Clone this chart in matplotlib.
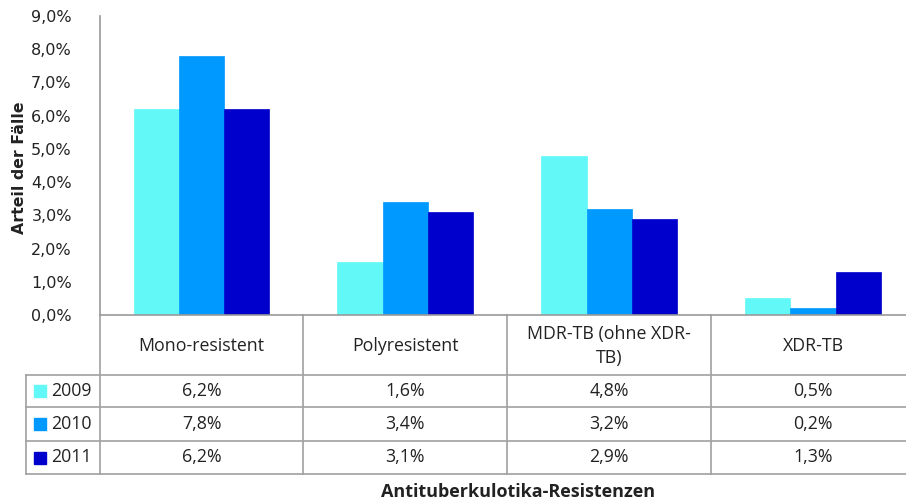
import numpy as np
import matplotlib.pyplot as plt
import matplotlib.transforms as mtransforms
from matplotlib.patches import Rectangle

categories = ['Mono-resistent', 'Polyresistent', 'MDR-TB (ohne XDR-\nTB)', 'XDR-TB']
years = ['2009', '2010', '2011']
v2009 = [6.2, 1.6, 4.8, 0.5]
v2010 = [7.8, 3.4, 3.2, 0.2]
v2011 = [6.2, 3.1, 2.9, 1.3]
colors = ['#62F8F8', '#0099FF', '#0000CC']

W, H = 906, 501
fig = plt.figure(figsize=(W / 100, H / 100), dpi=100)
# axes placed in pixel terms (Excel layout)
x0, x1, y0, y1 = 99.6, 915, 315, 16
ax = fig.add_axes([x0 / W, (H - y0) / H, (x1 - x0) / W, (y0 - y1) / H])

series = [v2009, v2010, v2011]
ind = np.arange(len(categories))
bw = 2 / 9
for i, vals in enumerate(series):
    ax.bar(ind + (i - 1) * bw, vals, bw, color=colors[i], edgecolor=colors[i], linewidth=0.5)

ax.set_xlim(-0.5, len(categories) - 0.5)
ax.set_ylim(0, 9)
ax.set_yticks(np.arange(0, 10, 1))
ax.set_yticklabels([('%.1f%%' % t).replace('.', ',') for t in np.arange(0, 10, 1)])
ax.yaxis.set_tick_params(length=0, pad=20, labelsize=11.5, labelcolor='#222222')
ax.set_xticks([])
for s in ['top', 'right']:
    ax.spines[s].set_visible(False)
for s in ['left', 'bottom']:
    ax.spines[s].set_color('#999999')
    ax.spines[s].set_linewidth(1.2)

fig.text(20 / W, (H - 168) / H, 'Arteil der Fälle', rotation=90, ha='center', va='center',
         fontsize=11.3, fontweight='bold', color='#222222')

# data table under the axis
ph = y0 - y1
def ay(py):
    return (y0 - py) / ph

trans = mtransforms.blended_transform_factory(ax.transData, ax.transAxes)
lc = '#A0A0A0'
leg_left = (26 - x0) / ((x1 - x0) / 4) - 0.5
right = 4.0
rows = [375, 407, 441, 474]
for r in rows:
    ax.plot([leg_left, right], [ay(r), ay(r)], color=lc, lw=1.2, transform=trans, clip_on=False)
for b in [-0.5, 0.5, 1.5, 2.5]:
    ax.plot([b, b], [0, ay(474)], color=lc, lw=1.2, transform=trans, clip_on=False)
ax.plot([leg_left, leg_left], [ay(375), ay(474)], color=lc, lw=1.2, transform=trans, clip_on=False)

tfont = dict(family=['Open Sans', 'DejaVu Sans'], fontsize=12.8, color='#222222')
for j, cat in enumerate(categories):
    ax.text(j, ay(346), cat, ha='center', va='center', transform=trans,
            linespacing=1.4, **tfont)
row_mid = [391, 424, 457.5]
for i, vals in enumerate(series):
    for j, v in enumerate(vals):
        ax.text(j, ay(row_mid[i]), ('%.1f%%' % v).replace('.', ','), ha='center', va='center',
                transform=trans, **tfont)
    fig.patches.append(Rectangle((34 / W, (H - row_mid[i] - 6) / H), 12 / W, 12 / H,
                                 transform=fig.transFigure, color=colors[i]))
    fig.text(51 / W, (H - row_mid[i]) / H, years[i], ha='left', va='center', **tfont)

fig.text(518 / W, (H - 492) / H, 'Antituberkulotika-Resistenzen', ha='center', va='center',
         fontsize=13, fontweight='bold', family=['Open Sans', 'DejaVu Sans'], color='#222222')

plt.savefig('out.png', dpi=100)
